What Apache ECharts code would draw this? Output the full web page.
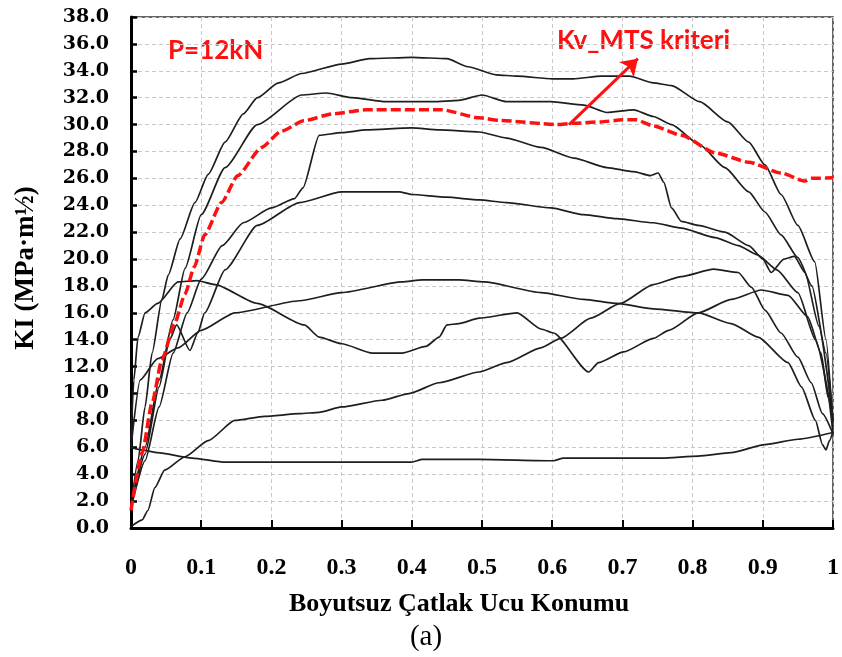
<!DOCTYPE html>
<html><head><meta charset="utf-8">
<script src="https://cdn.jsdelivr.net/npm/echarts@6/dist/echarts.min.js"></script>
<style>html,body{margin:0;padding:0;background:#fff}#c{width:842px;height:657px}</style>
</head><body><div id="c"></div>
<script>
// x ticks 0..1 step 0.1, y ticks 0..38 step 2
const xTicks = [0,0.1,0.2,0.3,0.4,0.5,0.6,0.7,0.8,0.9,1];
const yTicks = [0,2,4,6,8,10,12,14,16,18,20,22,24,26,28,30,32,34,36,38];

// Kv_MTS criterion (red dashed)
const kvMTS = [[0,1.3],[0.016,5.6],[0.03,9.3],[0.044,12.5],[0.062,15.2],[0.077,17.4],[0.09,19.4],[0.105,21.8],[0.129,24.2],[0.152,26.2],[0.186,28.3],[0.214,29.5],[0.247,30.3],[0.287,30.8],[0.335,31.1],[0.443,31.1],[0.496,30.5],[0.527,30.3],[0.607,30.0],[0.631,30.1],[0.669,30.2],[0.70,30.35],[0.72,30.35],[0.744,29.9],[0.784,29.2],[0.832,27.9],[0.88,27.2],[0.926,26.4],[0.96,25.8],[0.969,26.0],[1.0,26.05]];

const curveA = [[0,1.5],[0.01,5],[0.02,9],[0.03,13],[0.044,17],[0.053,18.8],[0.07,21.5],[0.091,24.2],[0.11,26.3],[0.134,28.7],[0.16,30.8],[0.18,32],[0.21,33.1],[0.243,33.8],[0.3,34.5],[0.34,34.9],[0.4,35],[0.45,34.9],[0.48,34.3],[0.52,33.7],[0.55,33.6],[0.6,33.4],[0.63,33.4],[0.67,33.6],[0.71,33.6],[0.744,33.1],[0.77,32.9],[0.81,31.7],[0.85,30.2],[0.88,28.7],[0.903,27],[0.926,24.8],[0.95,22.5],[0.974,19.8],[0.99,14],[1,7.5]];
const curveB = [[0,1.5],[0.02,6],[0.04,11],[0.06,15.5],[0.077,19.3],[0.1,23.3],[0.134,26.8],[0.18,30],[0.243,32.2],[0.278,32.35],[0.315,32.0],[0.363,31.7],[0.43,31.7],[0.467,31.8],[0.5,32.2],[0.535,31.7],[0.598,31.7],[0.645,31.45],[0.678,30.9],[0.716,31.1],[0.744,30.6],[0.77,30],[0.81,28.5],[0.846,26.8],[0.88,25],[0.903,23.5],[0.926,21.8],[0.95,20.1],[0.97,18],[0.99,13],[1,8]];
const curveC = [[0,1.5],[0.02,5],[0.04,9],[0.06,13],[0.08,16],[0.1,18.5],[0.13,21],[0.16,22.7],[0.2,23.8],[0.233,24.5],[0.245,25.3],[0.268,29.2],[0.30,29.4],[0.335,29.6],[0.4,29.75],[0.439,29.6],[0.496,29.45],[0.535,29.0],[0.584,28.3],[0.631,27.5],[0.678,26.8],[0.716,26.5],[0.74,26.2],[0.751,26.4],[0.759,25.7],[0.77,23.8],[0.784,22.8],[0.808,22.5],[0.846,22.0],[0.88,21.0],[0.9,20.0],[0.912,19.0],[0.93,20.0],[0.945,20.2],[0.96,19.0],[0.98,15],[1,8]];
const curveD = [[0,1.5],[0.02,5.5],[0.04,10.5],[0.055,14],[0.065,15.1],[0.084,13.2],[0.095,14.5],[0.105,16],[0.134,19.2],[0.18,22.5],[0.24,24.2],[0.3,25.0],[0.382,25.0],[0.4,24.8],[0.449,24.6],[0.496,24.4],[0.535,24.2],[0.598,23.8],[0.645,23.3],[0.692,23.0],[0.744,22.7],[0.784,22.3],[0.832,21.6],[0.865,21.0],[0.893,20.3],[0.92,19.2],[0.95,17.5],[0.975,14],[1,8]];
const curveE = [[0,6.5],[0.004,11],[0.01,14.2],[0.02,16],[0.038,16.7],[0.067,18.3],[0.094,18.4],[0.12,18.1],[0.18,16.7],[0.247,15.1],[0.268,14.2],[0.30,13.7],[0.344,13.0],[0.386,13.0],[0.42,13.5],[0.439,14.2],[0.45,15.1],[0.467,15.2],[0.496,15.6],[0.55,16.0],[0.584,14.8],[0.602,14.5],[0.652,11.6],[0.666,12.3],[0.702,13.1],[0.744,14.1],[0.766,14.7],[0.808,16.0],[0.855,17.0],[0.898,17.7],[0.936,17.3],[0.964,15.7],[0.983,13.0],[0.993,9.7],[1,7]];
const curveF = [[0,6],[0.013,11],[0.038,12.6],[0.067,13.4],[0.1,14.7],[0.148,16],[0.24,16.9],[0.30,17.5],[0.386,18.3],[0.415,18.45],[0.467,18.45],[0.503,18.3],[0.584,17.5],[0.645,17.0],[0.692,16.7],[0.744,16.3],[0.808,16.0],[0.855,15.2],[0.893,14.2],[0.936,12.3],[0.955,10.5],[0.975,8],[0.985,6.2],[0.99,5.8],[0.995,6.5],[1,7.2]];
const curveG = [[0,0.1],[0.016,0.6],[0.024,1.3],[0.034,3.0],[0.048,4.3],[0.077,5.3],[0.11,6.5],[0.148,8.0],[0.19,8.3],[0.24,8.5],[0.268,8.6],[0.30,9.0],[0.358,9.5],[0.396,10.0],[0.439,10.8],[0.496,11.6],[0.535,12.3],[0.584,13.4],[0.612,14.1],[0.655,15.6],[0.697,16.7],[0.744,18.1],[0.784,18.7],[0.83,19.25],[0.865,19.0],[0.884,17.9],[0.903,16.2],[0.926,14.5],[0.95,12.7],[0.969,10.8],[0.985,8.5],[1,7]];
const curveH = [[0,6.0],[0.016,5.8],[0.038,5.6],[0.087,5.2],[0.134,4.9],[0.247,4.9],[0.40,4.9],[0.415,5.1],[0.496,5.1],[0.602,5.0],[0.616,5.2],[0.756,5.2],[0.808,5.35],[0.855,5.6],[0.903,6.2],[0.95,6.6],[1,7.1]];

const blackCurves = [curveA, curveB, curveC, curveD, curveE, curveF, curveG, curveH];
const arrowFrom = [0.624, 30.0];
const arrowTo = [0.722, 34.9];

const chart = echarts.init(document.getElementById('c'), null, {renderer:'canvas'});
const series = blackCurves.map(d => ({
  type:'line', data:d, showSymbol:false, smooth:0.2, smoothMonotone:'x',
  lineStyle:{color:'#1e1e1e', width:1.7}, z:2, silent:true
}));
series.push({
  type:'line', data:kvMTS, showSymbol:false, smooth:0.2, smoothMonotone:'x',
  lineStyle:{color:'#ff1010', width:3.5, type:[10,4]}, z:3, silent:true,
  markLine:{silent:true, symbol:['none','arrow'], symbolSize:16,
    lineStyle:{color:'#ff1010', width:3, type:'solid'}, label:{show:false},
    data:[[{coord:arrowFrom},{coord:arrowTo}]]}
});

chart.setOption({
  animation:false,
  grid:{left:131, right:7, top:17, bottom:129, show:true, borderColor:'#333', borderWidth:1.5, backgroundColor:'transparent'},
  xAxis:{type:'value', min:0, max:1, interval:0.1,
    axisLine:{show:true, lineStyle:{color:'#000', width:3}},
    axisTick:{show:true, inside:true, length:8, lineStyle:{color:'#000', width:2}},
    axisLabel:{margin:28, color:'#000', fontFamily:'Liberation Serif', fontWeight:'bold', fontSize:24},
    splitLine:{show:true, lineStyle:{color:'#c8c8c8', width:1, type:[4,3]}}
  },
  yAxis:{type:'value', min:0, max:38, interval:2,
    axisLine:{show:true, lineStyle:{color:'#000', width:3}},
    axisTick:{show:true, inside:true, length:6, lineStyle:{color:'#000', width:2.5}},
    axisLabel:{margin:22, color:'#000', fontFamily:'DejaVu Serif', fontWeight:'bold', fontSize:19,
      formatter:v=>v.toFixed(1)},
    splitLine:{show:true, lineStyle:{color:'#c8c8c8', width:1, type:[4,3]}}
  },
  graphic:[
    {type:'text', left:168, top:38, style:{text:'P=12kN', fill:'#ff1010', font:'bold 26px Lato'}},
    {type:'text', left:557, top:28, style:{text:'Kv_MTS kriteri', fill:'#ff1010', font:'bold 26px Lato'}},
    {type:'text', x:459, y:604, style:{text:'Boyutsuz Çatlak Ucu Konumu', fill:'#000', font:'bold 26px "Liberation Serif"', textAlign:'center', textVerticalAlign:'middle'}},
    {type:'text', x:426, y:637, style:{text:'(a)', fill:'#000', font:'29px "Liberation Serif"', textAlign:'center', textVerticalAlign:'middle'}},
    {type:'text', x:26, y:268, rotation:Math.PI/2, style:{text:'KI (MPa·m½)', fill:'#000', font:'bold 27px "Liberation Serif"', textAlign:'center', textVerticalAlign:'middle'}}
  ],
  series:series
});
</script></body></html>
